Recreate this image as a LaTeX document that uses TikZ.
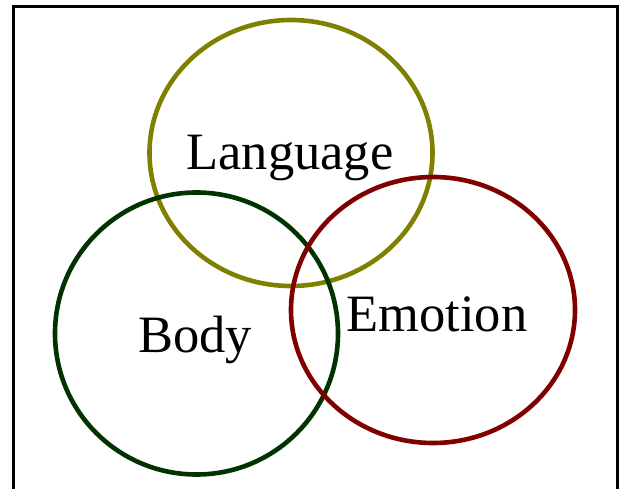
\documentclass[tikz,border=0pt]{standalone}
\usepackage{fontspec}
\setmainfont{Liberation Serif}
\definecolor{olivec}{RGB}{128,128,0}
\definecolor{greenc}{RGB}{0,51,0}
\definecolor{redc}{RGB}{128,0,0}
\tikzset{
  ring/.style={line width=4.6pt},
  lbl/.style={font=\fontsize{52.5}{60}\selectfont, anchor=base, inner sep=0pt},
  frame/.style={line width=3.4pt, black}
}
\begin{document}
\begin{tikzpicture}[x=1pt,y=-1pt]
\useasboundingbox (0,0) rectangle (621,489);
\fill[white] (0,0) rectangle (621,489);
\draw[frame] (13.5,495) -- (13.5,6.5) -- (617.5,6.5) -- (617.5,495);
\draw[ring, olivec] (291,153) ellipse [x radius=141.5, y radius=133];
\draw[ring, greenc] (196.5,333.5) ellipse [x radius=141.5, y radius=141];
\draw[ring, redc] (433,310) ellipse [x radius=142, y radius=133];
\node[lbl] (language) at (290,170) {Language};
\node[lbl] (body) at (195,352) {Body};
\node[lbl] (emotion) at (437,331) {Emotion};
\end{tikzpicture}
\end{document}
